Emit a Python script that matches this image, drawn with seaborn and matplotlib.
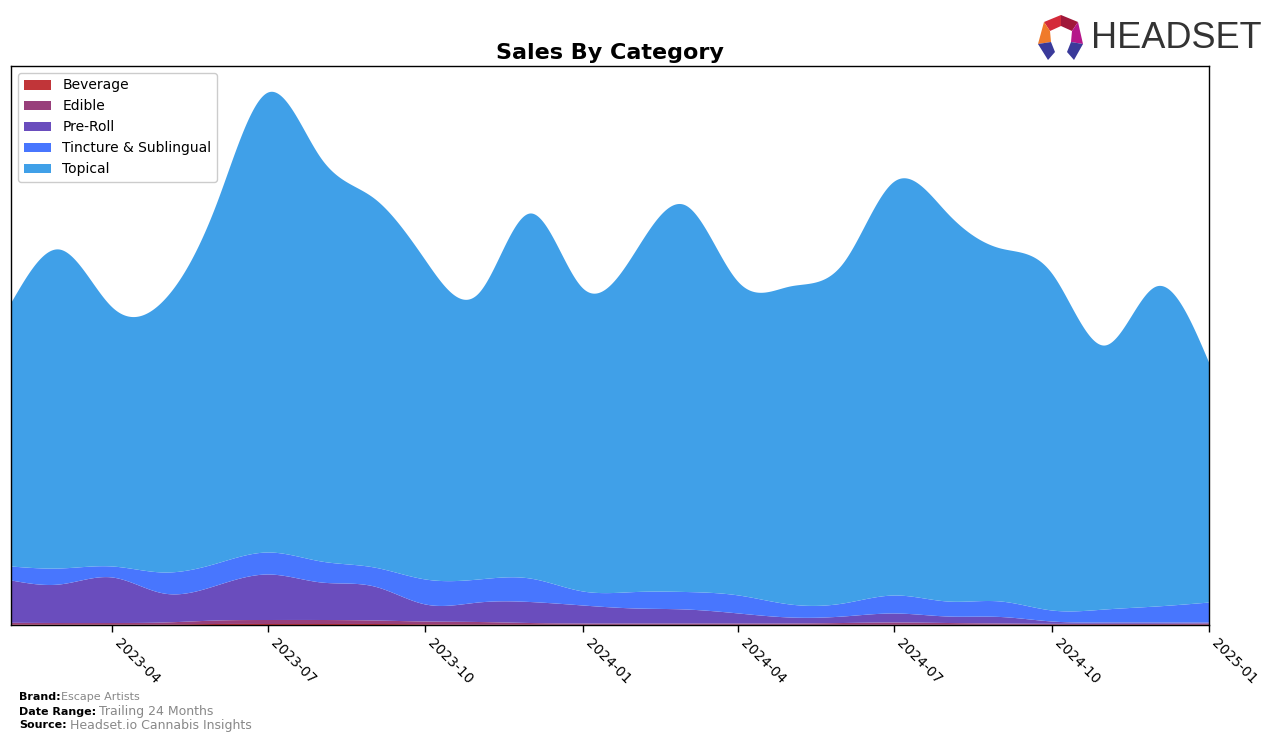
import numpy as np
import pandas as pd
import matplotlib
matplotlib.use("Agg")
import matplotlib.pyplot as plt
import matplotlib.dates as mdates
from matplotlib.patches import Polygon
import seaborn as sns

# ---------------- data (monthly) ----------------
months = pd.date_range("2023-02-01", "2025-01-01", freq="MS")
categories = ["Beverage", "Edible", "Pre-Roll", "Tincture & Sublingual", "Topical"]

beverage = [1.0, 1.0, 1.0, 1.0, 1.5, 1.5, 1.5, 1.5, 1.2, 1.0, 1.0, 0.8,
            0.8, 0.8, 0.8, 0.8, 0.8, 0.8, 0.8, 0.8, 0.8, 0.8, 0.8, 0.8]
edible = [1.7, 1.5, 1.5, 2.0, 3.5, 4.0, 4.0, 3.5, 2.8, 2.5, 1.5, 1.2,
          1.2, 1.2, 1.2, 1.2, 1.7, 2.2, 1.7, 1.2, 0.9, 0.9, 0.9, 1.2]
pre_roll = [42.3, 38.5, 45.5, 29.0, 35.0, 45.5, 37.5, 34.0, 17.0, 19.5, 21.0, 18.0,
            15.0, 14.0, 10.0, 6.0, 6.5, 9.0, 6.5, 6.5, 2.3, 1.3, 1.3, 1.0]
tincture = [14.0, 16.0, 11.0, 21.0, 22.0, 22.0, 21.0, 19.0, 25.0, 23.0, 23.5, 14.0,
            16.5, 17.5, 18.0, 13.0, 13.0, 18.0, 15.0, 15.5, 11.0, 13.0, 16.0, 20.0]
topical = [264.0, 319.0, 259.0, 272.0, 360.0, 460.0, 403.0, 369.0, 319.0, 286.0, 365.0, 303.0,
           341.5, 386.5, 313.0, 318.0, 340.0, 414.0, 388.0, 353.0, 337.0, 264.0, 320.0, 239.0]

colors = ["#c13539", "#983f7b", "#6a4dbd", "#4876fe", "#40a0e8"]

# ---------------- helpers ----------------
def natural_spline(x, y, xs):
    x = np.asarray(x, float); y = np.asarray(y, float)
    n = len(x); h = np.diff(x)
    A = np.zeros((n, n)); r = np.zeros(n)
    A[0, 0] = 1; A[-1, -1] = 1
    for i in range(1, n - 1):
        A[i, i - 1] = h[i - 1]
        A[i, i] = 2 * (h[i - 1] + h[i])
        A[i, i + 1] = h[i]
        r[i] = 6 * ((y[i + 1] - y[i]) / h[i] - (y[i] - y[i - 1]) / h[i - 1])
    M = np.linalg.solve(A, r)
    idx = np.clip(np.searchsorted(x, xs) - 1, 0, n - 2)
    x0 = x[idx]; x1 = x[idx + 1]; hh = x1 - x0
    a = (x1 - xs) / hh; b = (xs - x0) / hh
    return (a * y[idx] + b * y[idx + 1]
            + ((a ** 3 - a) * M[idx] + (b ** 3 - b) * M[idx + 1]) * hh ** 2 / 6)

# ---------------- plot ----------------
sns.set_theme(style="white")
plt.rcParams["font.family"] = ["DejaVu Sans"]
plt.rcParams["text.color"] = "black"
plt.rcParams["xtick.color"] = "black"

fig = plt.figure(figsize=(12.76, 7.42), dpi=100)
ax = fig.add_axes([11 / 1276, 1 - 625 / 742, (1209 - 11) / 1276, (625 - 66) / 742])

xnum = mdates.date2num(months)
xs = np.linspace(xnum[0], xnum[-1], 1200)
series = [beverage, edible, pre_roll, tincture, topical]
smooth = [np.clip(natural_spline(xnum, s, xs), 0, None) for s in series]

base = np.zeros_like(xs)
for name, s, c in zip(categories, smooth, colors):
    ax.fill_between(mdates.num2date(xs), base, base + s, color=c, linewidth=0, label=name)
    base = base + s

ax.set_xlim(months[0], months[-1])
ax.set_ylim(0, 559)
ax.set_yticks([])
ticks = pd.to_datetime(["2023-04-01", "2023-07-01", "2023-10-01", "2024-01-01",
                        "2024-04-01", "2024-07-01", "2024-10-01", "2025-01-01"])
ax.set_xticks(ticks)
ax.set_xticklabels([t.strftime("%Y-%m") for t in ticks], rotation=-45, ha="left",
                   fontsize=10, color="black")
ax.tick_params(axis="x", length=5, width=1, color="black", bottom=True, pad=3)
for sp in ax.spines.values():
    sp.set_visible(True)
    sp.set_color("black")
    sp.set_linewidth(1)

ax.set_title("Sales By Category", fontsize=16, fontweight="bold", pad=5, color="black")
leg = ax.legend(loc="upper left", fontsize=10, frameon=True, framealpha=1,
                edgecolor="#cccccc", borderpad=0.4, handlelength=2.0)
leg.get_frame().set_linewidth(1)
for t in leg.get_texts():
    t.set_color("black")

# footer
W, H = 1276, 742
def fx(px): return px / W
def fy(py): return 1 - py / H
fig.text(fx(19), fy(697), "Brand:", fontsize=8, fontweight="bold", va="center")
fig.text(fx(61), fy(697), "Escape Artists", fontsize=8, color="#888888", va="center")
fig.text(fx(19), fy(712), "Date Range:", fontsize=8, fontweight="bold", va="center")
fig.text(fx(99), fy(712), "Trailing 24 Months", fontsize=9, color="#888888", va="center")
fig.text(fx(19), fy(725), "Source:", fontsize=8, fontweight="bold", va="center")
fig.text(fx(70), fy(725), "Headset.io Cannabis Insights", fontsize=9, color="#888888", va="center")

# logo
fig.text(fx(1091), fy(39), "HEADSET", fontsize=26, color="#333333", va="center", ha="left",
         family=["Liberation Sans", "DejaVu Sans"])
def poly(pts, c):
    fig.patches.append(Polygon([(fx(a), fy(b)) for a, b in pts], closed=True,
                               transform=fig.transFigure, facecolor=c, edgecolor="none"))
poly([(1044, 22), (1061, 15), (1061, 26), (1050, 31)], "#d42a3a")
poly([(1061, 15), (1078, 22), (1072, 31), (1061, 26)], "#a0183a")
poly([(1044, 22), (1050, 31), (1051, 42), (1038, 44)], "#f07a2a")
poly([(1078, 22), (1083, 44), (1071, 42), (1072, 31)], "#b5178a")
poly([(1038, 44), (1051, 42), (1055, 52), (1048, 60)], "#3a3a9a")
poly([(1083, 44), (1071, 42), (1067, 52), (1074, 60)], "#3a3a9a")

fig.savefig("out.png", dpi=100)
